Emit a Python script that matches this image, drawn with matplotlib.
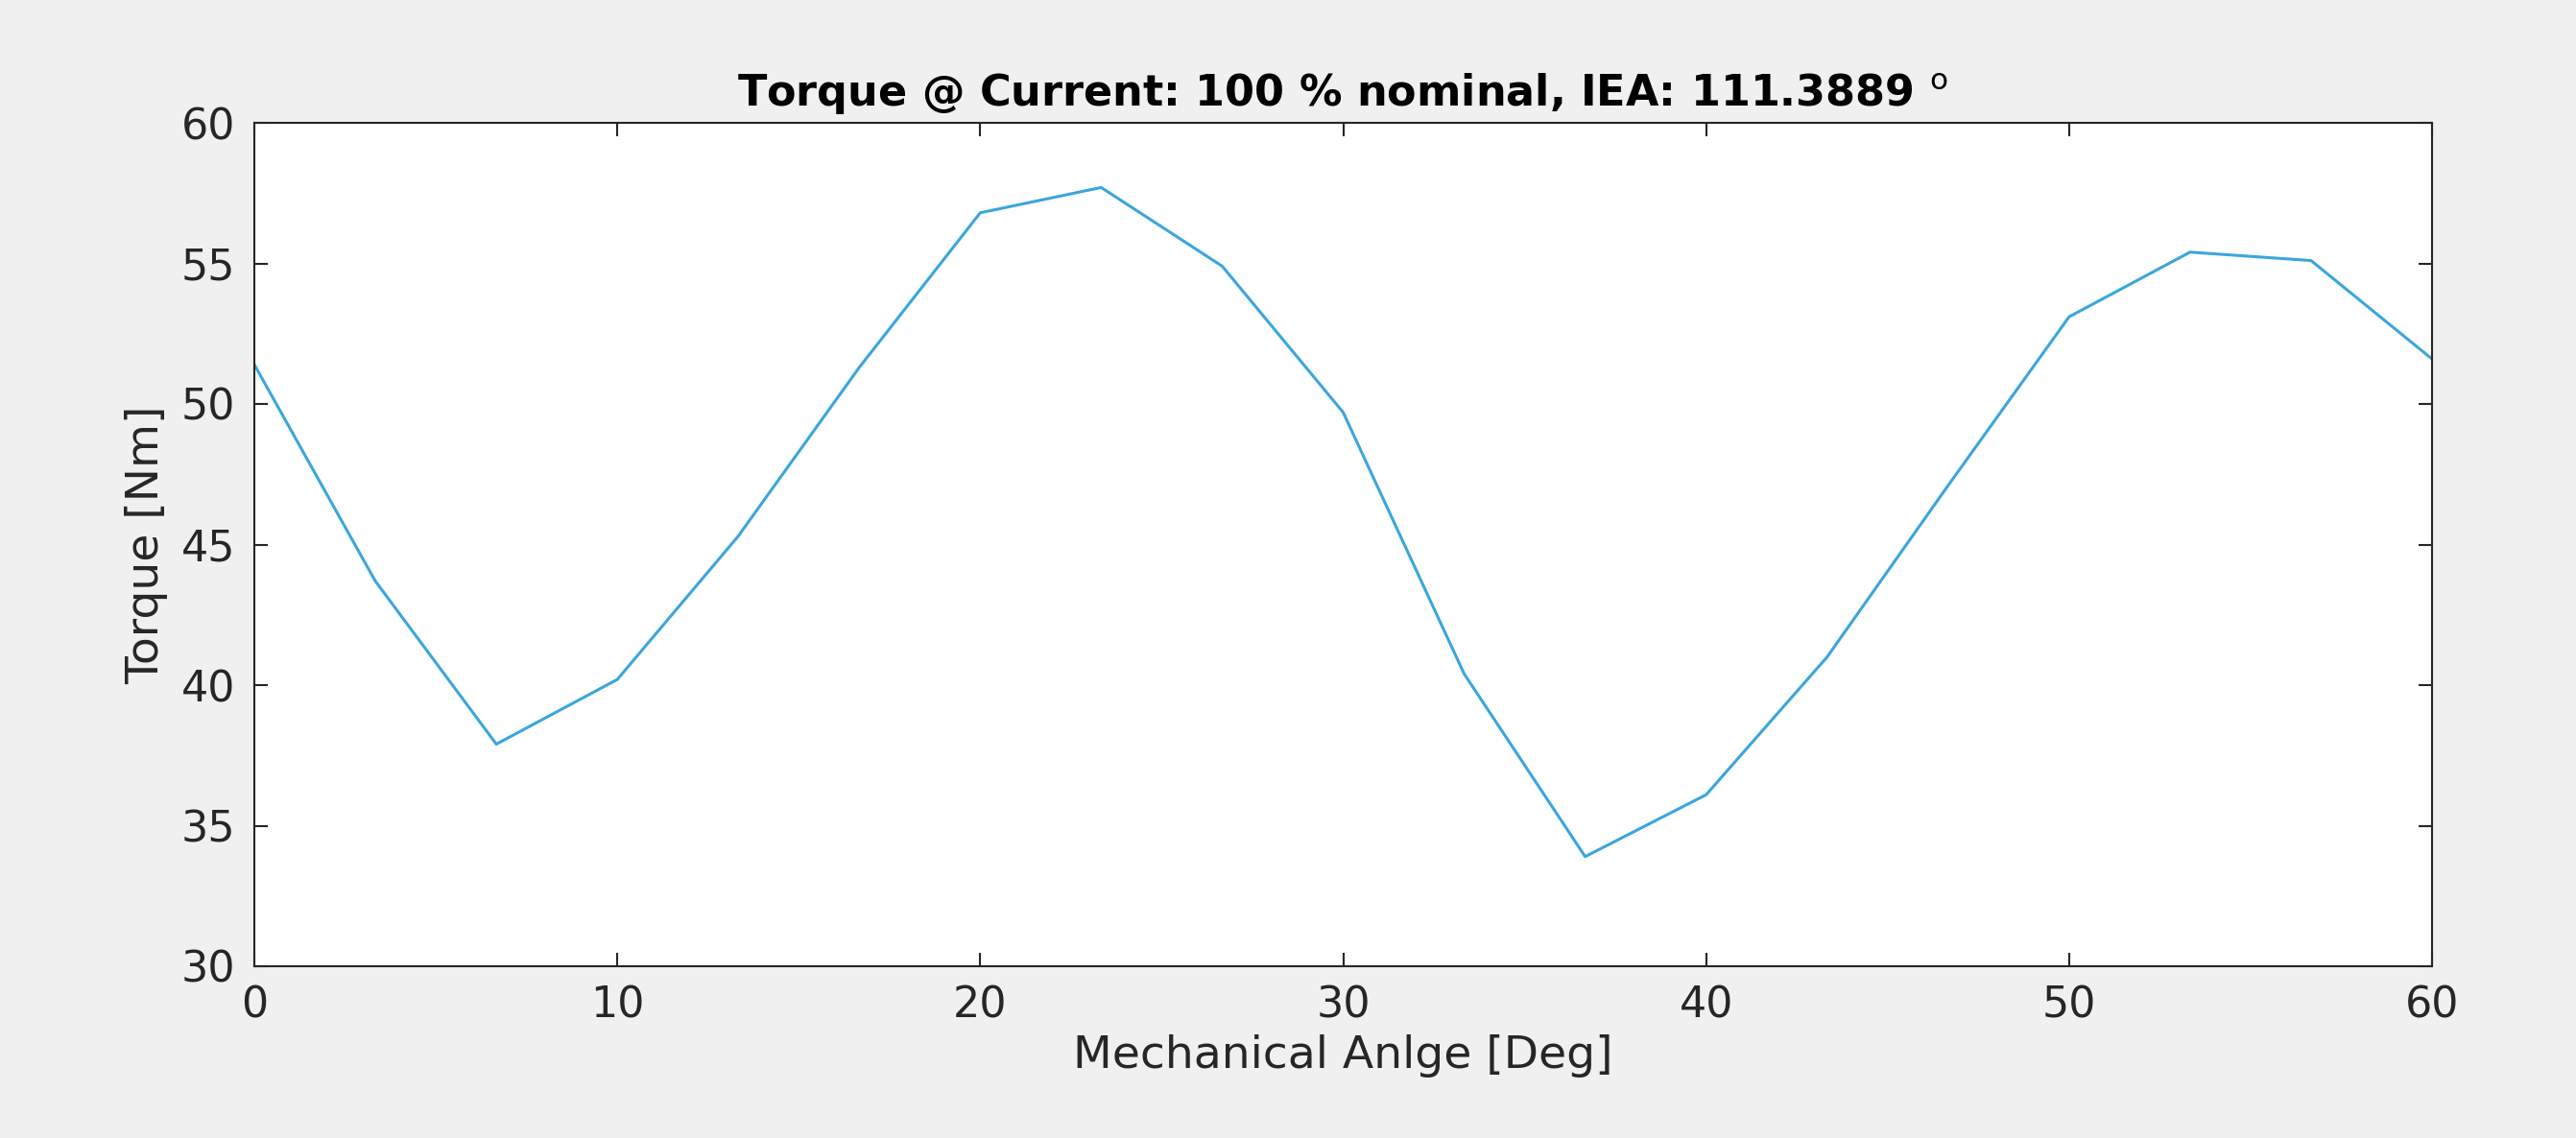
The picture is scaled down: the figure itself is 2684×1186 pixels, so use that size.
import matplotlib
matplotlib.use("Agg")
import matplotlib.pyplot as plt
import numpy as np

angle = [0, 3.333, 6.667, 10, 13.333, 16.667, 20, 23.333, 26.667, 30,
         33.333, 36.667, 40, 43.333, 46.667, 50, 53.333, 56.667, 60]
torque = [51.4, 43.7, 37.9, 40.2, 45.3, 51.3, 56.8, 57.7, 54.9, 49.7,
          40.4, 33.9, 36.1, 41.0, 47.1, 53.1, 55.4, 55.1, 51.6]
xticks = [0, 10, 20, 30, 40, 50, 60]
yticks = [30, 35, 40, 45, 50, 55, 60]

fig = plt.figure(figsize=(26.84, 11.86), dpi=100, facecolor='#f0f0f0')
ax = fig.add_axes([265/2684, 1-1007/1186, (2534-265)/2684, (1007-128)/1186])
ax.plot(angle, torque, color='#3aa6dc', lw=2.2)
ax.set_xlim(0, 60); ax.set_ylim(30, 60)
ax.set_xticks(xticks); ax.set_yticks(yticks)
ax.tick_params(labelsize=32, colors='#262626', direction='in', length=10, width=1.5, top=True, right=True, pad=14)
for s in ax.spines.values():
    s.set_color('#262626'); s.set_linewidth(1.5)
ax.set_xlabel('Mechanical Anlge [Deg]', fontsize=34, color='#262626', labelpad=6)
ax.set_ylabel('Torque [Nm]', fontsize=34, color='#262626', labelpad=10)
ax.set_title('Torque @ Current: 100 % nominal, IEA: 111.3889 $^{\\mathrm{o}}$', fontsize=32, fontweight='bold', color='black', pad=12)
fig.savefig('out.png', dpi=100, facecolor=fig.get_facecolor())
